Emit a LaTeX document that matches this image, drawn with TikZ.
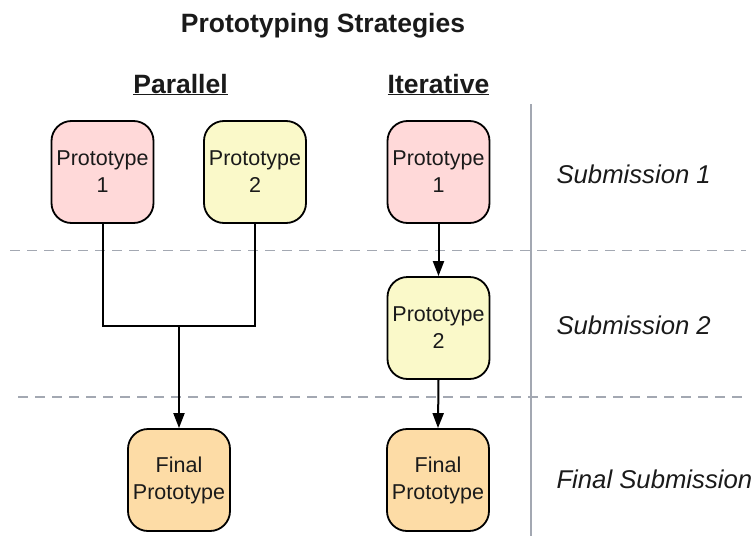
\documentclass[tikz,border=0pt]{standalone}
\usepackage{fontspec}
\setmainfont{Liberation Sans}
\usetikzlibrary{arrows.meta}
\definecolor{pinkfill}{HTML}{FFD9D9}
\definecolor{yellowfill}{HTML}{FAF9C9}
\definecolor{orangefill}{HTML}{FDDCA6}
\definecolor{sepgray}{HTML}{A3A8B2}
\definecolor{txt}{HTML}{1A1A1A}
\tikzset{
  proto/.style={draw=black, line width=1.8pt, rounded corners=20pt, minimum width=102pt, minimum height=102pt, align=center, inner sep=0pt, font=\fontsize{21.5}{27}\selectfont, text=txt},
  heading/.style={font=\fontsize{26.5}{30}\selectfont\bfseries, anchor=base, text=txt},
  sublabel/.style={font=\fontsize{25.7}{30}\selectfont\itshape, anchor=west, text=txt},
  conn/.style={draw=black, line width=2pt},
  arr/.style={conn, -{Triangle[length=15pt,width=11pt]}},
  sepdash/.style={draw=sepgray, line width=1.6pt, dash pattern=on 10pt off 7pt},
}
\begin{document}
\begin{tikzpicture}[x=1pt,y=-1pt]
\useasboundingbox (0,0) rectangle (756,536);
% title and headings
\node[heading] (title) at (323,32) {Prototyping Strategies};
\node[heading] (hpar) at (180.5,93) {\underline{Parallel}};
\node[heading] (hit) at (438.5,93) {\underline{Iterative}};
% separators
\coordinate (d1a) at (10,250.5);
\coordinate (d1b) at (746,250.5);
\coordinate (d2a) at (18,397);
\coordinate (d2b) at (746,397);
\draw[sepdash] (d1a) -- (d1b);
\draw[sepdash] (d2a) -- (d2b);
\coordinate (vtop) at (531,104);
\coordinate (vbot) at (531,536);
\draw[draw=sepgray, line width=2pt] (vtop) -- (vbot);
% boxes
\node[proto, fill=pinkfill] (pp1) at (102.5,172) {Prototype\\1};
\node[proto, fill=yellowfill] (pp2) at (255,172) {Prototype\\2};
\node[proto, fill=orangefill] (pf) at (179,480) {Final\\Prototype};
\node[proto, fill=pinkfill] (ip1) at (438.5,172) {Prototype\\1};
\node[proto, fill=yellowfill] (ip2) at (438.5,328) {Prototype\\2};
\node[proto, fill=orangefill] (if) at (438,480) {Final\\Prototype};
% labels
\node[sublabel] (s1) at (553,174) {Submission 1};
\node[sublabel] (s2) at (553,325) {Submission 2};
\node[sublabel] (s3) at (553,479) {Final Submission};
% connectors
\coordinate (join) at (179,325.5);
\draw[conn] (pp1.south) |- (join) -| (pp2.south);
\draw[arr] (join) -- (pf.north);
\draw[arr] (ip1.south) -- (ip2.north);
\draw[arr] (ip2.south) -- (if.north);
\end{tikzpicture}
\end{document}
